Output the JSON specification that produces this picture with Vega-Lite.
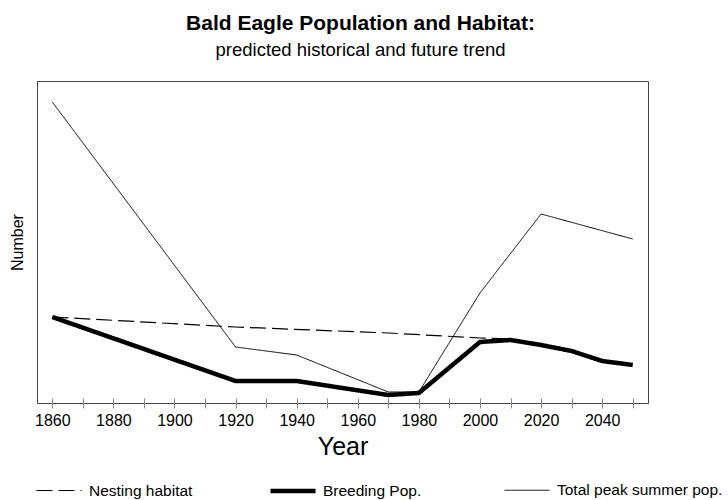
{
  "$schema": "https://vega.github.io/schema/vega-lite/v6.json",
  "autosize": "none",
  "width": 611,
  "height": 322,
  "padding": {"left": 37, "top": 81, "right": 80, "bottom": 97},
  "background": "white",
  "title": {
    "text": "Bald Eagle Population and Habitat:",
    "subtitle": "predicted historical and future trend",
    "font": "Liberation Sans",
    "fontSize": 21,
    "fontWeight": "bold",
    "color": "black",
    "subtitleFont": "Liberation Sans",
    "subtitleFontSize": 18.5,
    "subtitleColor": "black",
    "subtitlePadding": 7,
    "anchor": "middle",
    "dx": 18,
    "offset": 22
  },
  "config": {
    "view": {"stroke": "#444", "strokeWidth": 1},
    "font": "Liberation Sans"
  },
  "data": {
    "values": [
      {"year": 1860, "series": "Nesting habitat", "value": 86},
      {"year": 1920, "series": "Nesting habitat", "value": 76},
      {"year": 1970, "series": "Nesting habitat", "value": 70},
      {"year": 2000, "series": "Nesting habitat", "value": 65},
      {"year": 2010, "series": "Nesting habitat", "value": 64},
      {"year": 1860, "series": "Breeding Pop.", "value": 86},
      {"year": 1920, "series": "Breeding Pop.", "value": 22},
      {"year": 1940, "series": "Breeding Pop.", "value": 22},
      {"year": 1970, "series": "Breeding Pop.", "value": 8},
      {"year": 1980, "series": "Breeding Pop.", "value": 10},
      {"year": 2000, "series": "Breeding Pop.", "value": 61},
      {"year": 2010, "series": "Breeding Pop.", "value": 63},
      {"year": 2020, "series": "Breeding Pop.", "value": 58},
      {"year": 2030, "series": "Breeding Pop.", "value": 52},
      {"year": 2040, "series": "Breeding Pop.", "value": 42},
      {"year": 2050, "series": "Breeding Pop.", "value": 38},
      {"year": 1860, "series": "Total peak summer pop.", "value": 301},
      {"year": 1920, "series": "Total peak summer pop.", "value": 56},
      {"year": 1940, "series": "Total peak summer pop.", "value": 48},
      {"year": 1970, "series": "Total peak summer pop.", "value": 11},
      {"year": 1980, "series": "Total peak summer pop.", "value": 11},
      {"year": 2000, "series": "Total peak summer pop.", "value": 110},
      {"year": 2020, "series": "Total peak summer pop.", "value": 189},
      {"year": 2050, "series": "Total peak summer pop.", "value": 164}
    ]
  },
  "mark": {"type": "line", "color": "black", "strokeJoin": "round"},
  "encoding": {
    "x": {
      "field": "year",
      "type": "quantitative",
      "scale": {"domain": [1855, 2055], "nice": false, "zero": false},
      "axis": {
        "title": "Year",
        "titleFont": "Liberation Sans",
        "titleFontSize": 25,
        "titleFontWeight": "normal",
        "titleColor": "black",
        "titlePadding": 6,
        "values": [1860, 1870, 1880, 1890, 1900, 1910, 1920, 1930, 1940, 1950, 1960, 1970, 1980, 1990, 2000, 2010, 2020, 2030, 2040, 2050],
        "format": "d",
        "labelExpr": "datum.value % 20 == 0 ? datum.label : ''",
        "labelFont": "Liberation Sans",
        "labelFontSize": 16,
        "labelColor": "black",
        "labelPadding": 4,
        "labelFlush": false,
        "labelOverlap": false,
        "domain": false,
        "grid": false,
        "offset": -5,
        "tickSize": 10,
        "tickColor": "#888"
      }
    },
    "y": {
      "field": "value",
      "type": "quantitative",
      "scale": {"domain": [0, 322], "nice": false},
      "axis": {
        "title": "Number",
        "titleFont": "Liberation Sans",
        "titleFontSize": 16,
        "titleFontWeight": "normal",
        "titleColor": "black",
        "titlePadding": 12,
        "labels": false,
        "ticks": false,
        "domain": false,
        "grid": false
      }
    },
    "detail": {"field": "series"},
    "strokeDash": {
      "field": "series",
      "type": "nominal",
      "scale": {
        "domain": ["Nesting habitat", "Breeding Pop.", "Total peak summer pop."],
        "range": [[16, 6], [1, 0], [1, 0]]
      },
      "legend": {
        "title": null,
        "orient": "none",
        "legendX": -3,
        "legendY": 385,
        "direction": "horizontal",
        "columns": 3,
        "gridAlign": "all",
        "columnPadding": 6,
        "symbolType": "stroke",
        "symbolSize": 2025,
        "symbolStrokeColor": "black",
        "labelFont": "Liberation Sans",
        "labelFontSize": 15.5,
        "labelColor": "black",
        "labelOffset": 5,
        "labelLimit": 300
      }
    },
    "strokeWidth": {
      "field": "series",
      "type": "nominal",
      "scale": {
        "type": "ordinal",
        "domain": ["Nesting habitat", "Breeding Pop.", "Total peak summer pop."],
        "range": [1.2, 4.5, 1]
      },
      "legend": {
        "title": null,
        "orient": "none",
        "legendX": -3,
        "legendY": 385,
        "direction": "horizontal",
        "columns": 3,
        "gridAlign": "all",
        "columnPadding": 6,
        "symbolType": "stroke",
        "symbolSize": 2025,
        "symbolStrokeColor": "black",
        "labelFont": "Liberation Sans",
        "labelFontSize": 15.5,
        "labelColor": "black",
        "labelOffset": 5,
        "labelLimit": 300
      }
    }
  }
}
